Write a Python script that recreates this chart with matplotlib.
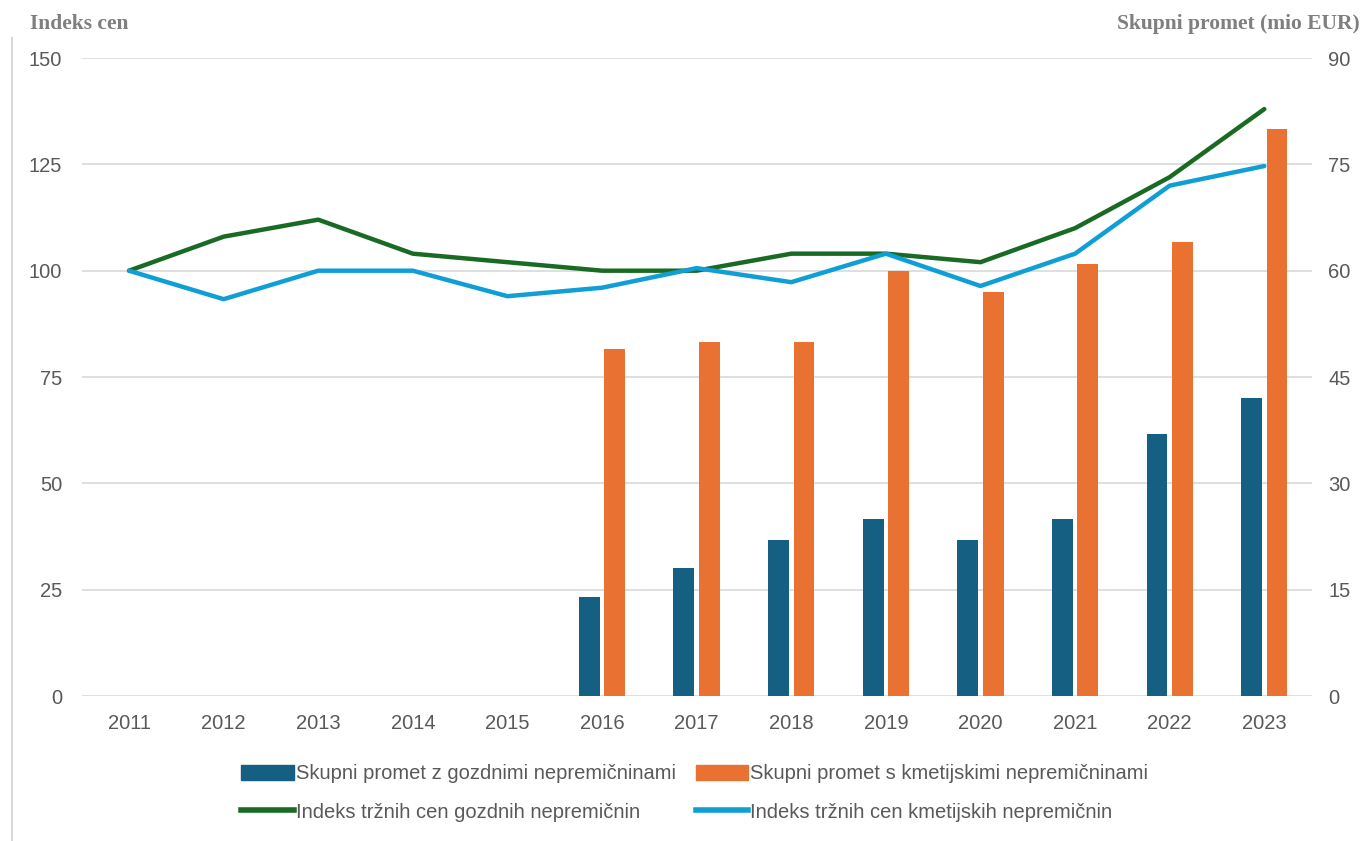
import matplotlib.pyplot as plt
import numpy as np
from matplotlib.lines import Line2D
from matplotlib.patches import Patch

# podatki
years = [2011, 2012, 2013, 2014, 2015, 2016, 2017, 2018, 2019, 2020, 2021, 2022, 2023]
promet_gozd = [None, None, None, None, None, 14, 18, 22, 25, 22, 25, 37, 42]
promet_kmet = [None, None, None, None, None, 49, 50, 50, 60, 57, 61, 64, 80]
indeks_gozd = [100, 108, 112, 104, 102, 100, 100, 104, 104, 102, 110, 122, 138]
indeks_kmet = [100, 93.3, 100, 100, 94, 96, 100.6, 97.3, 104, 96.4, 104, 120, 124.6]

left_ticks = [0, 25, 50, 75, 100, 125, 150]
right_ticks = [0, 15, 30, 45, 60, 75, 90]

C_GOZD_BAR = "#145f82"
C_KMET_BAR = "#e97132"
C_GOZD_LINE = "#196b24"
C_KMET_LINE = "#0f9ed5"
C_TEXT = "#595959"
C_TITLE = "#7f7f7f"


def main():
    plt.rcParams['font.family'] = ['Liberation Sans', 'DejaVu Sans']

    fig = plt.figure(figsize=(13.62, 8.41), dpi=100)
    ax = fig.add_axes([0.060, 0.1724, 0.903, 0.7586])
    ax2 = ax.twinx()

    x = np.arange(len(years))
    w = 0.22
    off = 0.135

    xs_g = [i for i, v in zip(x, promet_gozd) if v is not None]
    vs_g = [v for v in promet_gozd if v is not None]
    xs_k = [i for i, v in zip(x, promet_kmet) if v is not None]
    vs_k = [v for v in promet_kmet if v is not None]

    ax2.bar(np.array(xs_g) - off, vs_g, width=w, color=C_GOZD_BAR, zorder=2)
    ax2.bar(np.array(xs_k) + off, vs_k, width=w, color=C_KMET_BAR, zorder=2)

    # lines belong to the left axis but must be drawn over the bars
    ax2.plot(x, np.array(indeks_gozd) * 90 / 150, color=C_GOZD_LINE, lw=3.2,
             solid_capstyle="round", solid_joinstyle="round", zorder=3)
    ax2.plot(x, np.array(indeks_kmet) * 90 / 150, color=C_KMET_LINE, lw=3.2,
             solid_capstyle="round", solid_joinstyle="round", zorder=3)

    ax.set_xlim(-0.5, len(years) - 0.5)
    ax.set_ylim(0, 150)
    ax2.set_ylim(0, 90)
    ax.set_yticks(left_ticks)
    ax2.set_yticks(right_ticks)
    ax.set_xticks(x)
    ax.set_xticklabels([str(y) for y in years])

    ax.grid(axis="y", color="#d9d9d9", lw=1.2)
    ax.set_axisbelow(True)
    for a in (ax, ax2):
        for s in a.spines.values():
            s.set_visible(False)
        a.tick_params(length=0, labelsize=14.5, labelcolor=C_TEXT)
    ax.tick_params(axis="y", pad=14)
    ax2.tick_params(axis="y", pad=12)
    ax.tick_params(axis="x", pad=13)

    fig.text(0.022, 0.972, "Indeks cen", ha="left", va="center",
             family="Liberation Serif", fontweight="bold", fontsize=15.5, color=C_TITLE)
    fig.text(0.998, 0.972, "Skupni promet (mio EUR)", ha="right", va="center",
             family="Liberation Serif", fontweight="bold", fontsize=15.5, color=C_TITLE)

    # faint border on the left edge
    fig.add_artist(Line2D([0.009, 0.009], [0.0, 0.955], color="#d9d9d9", lw=1.5))

    handles = [
        Patch(color=C_GOZD_BAR),
        Patch(color=C_KMET_BAR),
        Line2D([0], [0], color=C_GOZD_LINE, lw=4),
        Line2D([0], [0], color=C_KMET_LINE, lw=4),
    ]
    labels = [
        "Skupni promet z gozdnimi nepremičninami",
        "Skupni promet s kmetijskimi nepremičninami",
        "Indeks tržnih cen gozdnih nepremičnin",
        "Indeks tržnih cen kmetijskih nepremičnin",
    ]
    # order so that bars form the first row, lines the second
    order = [0, 2, 1, 3]
    fig.legend([handles[i] for i in order], [labels[i] for i in order],
               ncol=2, loc="center", bbox_to_anchor=(0.51, 0.057),
               frameon=False, handlelength=2.6, handleheight=0.75,
               handletextpad=0.1, columnspacing=1.0, labelspacing=0.95,
               prop={"size": 14.5}, labelcolor=C_TEXT)

    fig.savefig("out.png", dpi=100)

    return


if __name__ == "__main__":
    main()
